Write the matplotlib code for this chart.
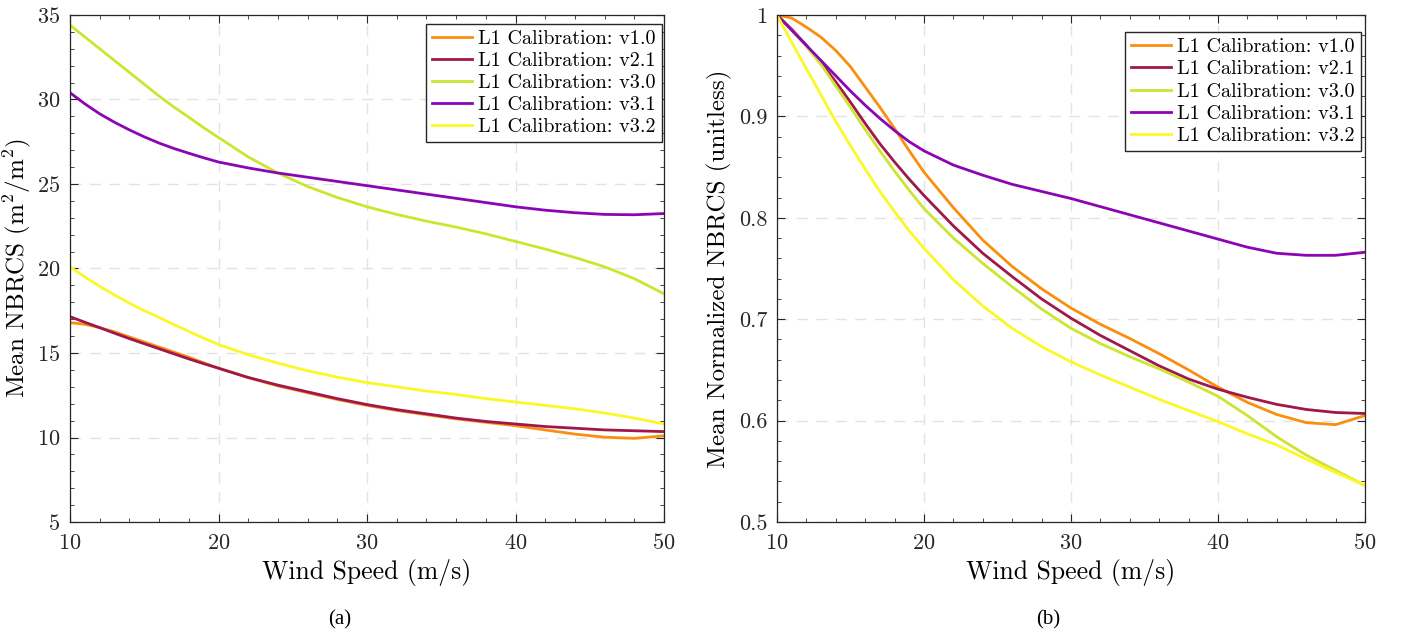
import numpy as np
import matplotlib
matplotlib.use('Agg')
import matplotlib.pyplot as plt
from matplotlib.ticker import MultipleLocator, FormatStrFormatter

# wind speed grid (m/s): finer where the curves bend most
wind = [10, 11, 12, 13, 14, 15, 16, 17, 18, 19, 20,
        22, 24, 26, 28, 30, 32, 34, 36, 38, 40, 42, 44, 46, 48, 50]

labels = ['L1 Calibration: v1.0', 'L1 Calibration: v2.1', 'L1 Calibration: v3.0',
          'L1 Calibration: v3.1', 'L1 Calibration: v3.2']
colors = ['#f98e0f', '#a0174b', '#cde52f', '#8b05b4', '#fbf826']

# (a) mean NBRCS
nbrcs_v10 = [16.8, 16.7, 16.5, 16.25, 15.95, 15.65, 15.35, 15.05, 14.75, 14.42, 14.1,
             13.55, 13.05, 12.65, 12.25, 11.9, 11.6, 11.35, 11.1, 10.9, 10.7,
             10.45, 10.2, 10.02, 9.95, 10.1]
nbrcs_v21 = [17.15, 16.82, 16.5, 16.17, 15.85, 15.55, 15.25, 14.95, 14.65, 14.37, 14.1,
             13.55, 13.1, 12.7, 12.3, 11.95, 11.65, 11.4, 11.15, 10.95, 10.8,
             10.65, 10.55, 10.45, 10.4, 10.35]
nbrcs_v30 = [34.4, 33.7, 33.0, 32.3, 31.6, 30.9, 30.2, 29.55, 28.95, 28.33, 27.75,
             26.6, 25.65, 24.85, 24.2, 23.65, 23.2, 22.8, 22.45, 22.05, 21.6,
             21.15, 20.65, 20.1, 19.4, 18.5]
nbrcs_v31 = [30.4, 29.74, 29.15, 28.65, 28.2, 27.79, 27.42, 27.1, 26.82, 26.55, 26.3,
             25.95, 25.65, 25.4, 25.15, 24.9, 24.65, 24.4, 24.15, 23.9, 23.65,
             23.45, 23.3, 23.2, 23.18, 23.25]
nbrcs_v32 = [20.1, 19.5, 18.95, 18.43, 17.95, 17.5, 17.1, 16.68, 16.28, 15.88, 15.5,
             14.9, 14.4, 13.95, 13.57, 13.25, 13.0, 12.75, 12.55, 12.3, 12.1,
             11.9, 11.7, 11.45, 11.15, 10.8]

# (b) normalized NBRCS
norm_v10 = [1.0, 0.997, 0.988, 0.978, 0.965, 0.949, 0.929, 0.909, 0.888, 0.866, 0.845,
            0.810, 0.778, 0.752, 0.730, 0.711, 0.695, 0.681, 0.666, 0.650, 0.633,
            0.618, 0.606, 0.598, 0.596, 0.605]
norm_v21 = [1.0, 0.986, 0.970, 0.953, 0.934, 0.914, 0.893, 0.873, 0.855, 0.838, 0.822,
            0.792, 0.765, 0.742, 0.720, 0.701, 0.684, 0.669, 0.654, 0.641, 0.631,
            0.623, 0.616, 0.611, 0.608, 0.607]
norm_v30 = [1.0, 0.985, 0.969, 0.951, 0.930, 0.909, 0.887, 0.866, 0.846, 0.827, 0.809,
            0.780, 0.755, 0.732, 0.710, 0.691, 0.676, 0.663, 0.651, 0.638, 0.624,
            0.605, 0.584, 0.566, 0.551, 0.536]
norm_v31 = [1.0, 0.985, 0.970, 0.955, 0.940, 0.925, 0.911, 0.898, 0.886, 0.875, 0.866,
            0.852, 0.842, 0.833, 0.826, 0.819, 0.811, 0.803, 0.795, 0.787, 0.779,
            0.771, 0.765, 0.763, 0.763, 0.766]
norm_v32 = [1.0, 0.973, 0.947, 0.921, 0.895, 0.871, 0.848, 0.826, 0.806, 0.787, 0.770,
            0.739, 0.713, 0.691, 0.673, 0.658, 0.645, 0.633, 0.621, 0.610, 0.599,
            0.587, 0.576, 0.562, 0.549, 0.536]

plt.rcParams['font.family'] = 'cmr10'
plt.rcParams['mathtext.fontset'] = 'cm'
plt.rcParams['axes.formatter.use_mathtext'] = True

fig = plt.figure(figsize=(14.03, 6.37), dpi=100)
ax1 = fig.add_axes([0.0499, 0.1805, 0.4234, 0.796])
ax2 = fig.add_axes([0.5538, 0.1805, 0.4191, 0.796])


def style_axes(ax):
    ax.tick_params(which='both', direction='in', top=True, right=True, colors='#262626')
    ax.tick_params(which='major', length=6, labelsize=16)
    ax.tick_params(axis='x', which='major', pad=8)
    ax.tick_params(axis='y', which='major', pad=7)
    ax.tick_params(which='minor', length=3)
    ax.grid(True, which='major', linestyle=(0, (8, 6)), color='#e3e3e3', linewidth=1)
    for s in ax.spines.values():
        s.set_color('#262626')
        s.set_linewidth(0.9)
    ax.set_axisbelow(True)


leg_kw = dict(loc='upper right', fontsize=14.5, frameon=True, fancybox=False,
              edgecolor='#262626', framealpha=1, handlelength=2.0, borderpad=0.3,
              labelspacing=0.2, handletextpad=0.3, borderaxespad=0.1)

for vals, lab, c in zip([nbrcs_v10, nbrcs_v21, nbrcs_v30, nbrcs_v31, nbrcs_v32], labels, colors):
    ax1.plot(wind, vals, color=c, lw=2, label=lab)
ax1.set_xlim(10, 50)
ax1.set_ylim(5, 35)
ax1.xaxis.set_major_locator(MultipleLocator(10))
ax1.xaxis.set_minor_locator(MultipleLocator(2))
ax1.yaxis.set_major_locator(MultipleLocator(5))
ax1.yaxis.set_minor_locator(MultipleLocator(1))
style_axes(ax1)
ax1.set_xlabel('Wind Speed (m/s)', fontsize=18.5, labelpad=4)
ax1.set_ylabel('Mean NBRCS (m$^2$/m$^2$)', fontsize=18, labelpad=3)
ax1.legend(bbox_to_anchor=(1.0, 0.987), **leg_kw)

for vals, lab, c in zip([norm_v10, norm_v21, norm_v30, norm_v31, norm_v32], labels, colors):
    ax2.plot(wind, vals, color=c, lw=2, label=lab)
ax2.set_xlim(10, 50)
ax2.set_ylim(0.5, 1)
ax2.xaxis.set_major_locator(MultipleLocator(10))
ax2.xaxis.set_minor_locator(MultipleLocator(2))
ax2.yaxis.set_major_locator(MultipleLocator(0.1))
ax2.yaxis.set_minor_locator(MultipleLocator(0.02))
ax2.yaxis.set_major_formatter(FormatStrFormatter('%g'))
style_axes(ax2)
ax2.set_xlabel('Wind Speed (m/s)', fontsize=18.5, labelpad=4)
ax2.set_ylabel('Mean Normalized NBRCS (unitless)', fontsize=18, labelpad=5)
ax2.legend(bbox_to_anchor=(0.996, 0.97), **leg_kw)

fig.text(0.242, 0.027, '(a)', fontsize=15, family='Liberation Serif', ha='center', va='center')
fig.text(0.747, 0.027, '(b)', fontsize=15, family='Liberation Serif', ha='center', va='center')

fig.savefig('out.png', dpi=100)
